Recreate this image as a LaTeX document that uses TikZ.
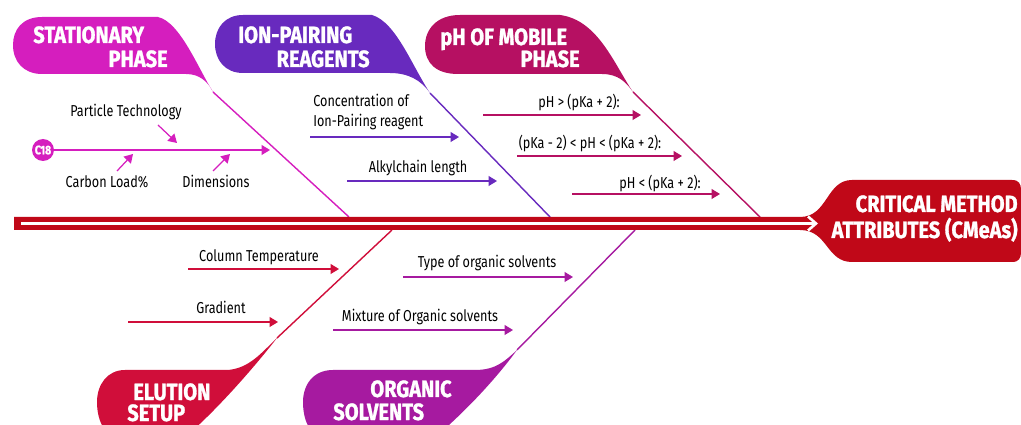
\documentclass[tikz,border=0pt]{standalone}
\usepackage{fontspec}
\setmainfont{Fira Sans}[FakeStretch=0.8]
\newfontfamily\headfam{Fira Sans}[FakeStretch=0.85,BoldFeatures={FakeBold=1.2}]
\usetikzlibrary{arrows.meta}
\definecolor{statpink}{RGB}{213,30,190}
\definecolor{ionpurple}{RGB}{104,42,190}
\definecolor{phcrimson}{RGB}{182,16,98}
\definecolor{elured}{RGB}{208,14,58}
\definecolor{orgplum}{RGB}{166,26,160}
\definecolor{spinered}{RGB}{192,8,24}
\newcommand\headfont{\headfam\fontsize{13.4}{14}\selectfont\bfseries}
\newcommand\lblfont{\fontsize{9}{10}\selectfont}

\begin{document}
\begin{tikzpicture}[x=0.02cm,y=-0.02cm,line join=round,
  >={Triangle[length=1.7mm,width=2mm]},
  head/.style={font=\headfont,text=white,inner sep=0},
  lbl/.style={font=\lblfont,inner sep=0},
  bone/.style={line width=0.8pt},
  cause/.style={line width=0.7pt,->}]
  \useasboundingbox (0,0) rectangle (1021,425);
  \clip (0,0) rectangle (1021,425);

  % bones
  \coordinate (statTip) at (213,92);  \coordinate (statFoot) at (349,217);
  \coordinate (ionTip) at (430,93);   \coordinate (ionFoot) at (550,217);
  \coordinate (phTip) at (633,92);    \coordinate (phFoot) at (760,217);
  \coordinate (eluTip) at (277,338);  \coordinate (eluFoot) at (392,230);
  \coordinate (orgTip) at (517,350);  \coordinate (orgFoot) at (635,230);
  \draw[bone,statpink] (statTip) -- (statFoot);
  \draw[bone,ionpurple] (ionTip) -- (ionFoot);
  \draw[bone,phcrimson] (phTip) -- (phFoot);
  \draw[bone,elured] (eluTip) -- (eluFoot);
  \draw[bone,orgplum] (orgTip) -- (orgFoot);

  % bubbles
  \fill[statpink] (statTip) .. controls (198,68) and (180,22) .. (158,17) -- (42,17)
    .. controls (22,17) and (13,30) .. (13,45) .. controls (13,62) and (24,74) .. (42,74)
    -- (186,74) .. controls (200,74) and (208,82) .. (statTip) -- cycle;
  \fill[ionpurple] (ionTip) .. controls (412,66) and (396,22) .. (372,15) -- (243,15)
    .. controls (225,15) and (215,28) .. (215,44) .. controls (215,60) and (225,73) .. (243,73)
    -- (390,73) .. controls (408,73) and (421,80) .. (ionTip) -- cycle;
  \fill[phcrimson] (phTip) .. controls (614,64) and (598,20) .. (560,15) -- (460,15)
    .. controls (436,15) and (425,30) .. (425,46) .. controls (425,63) and (436,74) .. (458,74)
    -- (602,74) .. controls (618,74) and (626,82) .. (phTip) -- cycle;
  \fill[elured] (eluTip) .. controls (262,352) and (250,368) .. (228,370) -- (125,370)
    .. controls (107,370) and (97,385) .. (97,402) .. controls (97,422) and (106,440) .. (125,440)
    -- (182,440) .. controls (215,412) and (252,370) .. (eluTip) -- cycle;
  \fill[orgplum] (orgTip) .. controls (505,361) and (496,370) .. (475,370) -- (333,370)
    .. controls (313,370) and (303,385) .. (303,402) .. controls (303,422) and (311,440) .. (333,440)
    -- (432,440) .. controls (465,412) and (495,380) .. (orgTip) -- cycle;

  % spine and head
  \fill[spinered] (14,217) -- (800,217) .. controls (828,217) and (826,180) .. (852,180)
    -- (1012,180) .. controls (1019,180) and (1021,184) .. (1021,190) -- (1021,252)
    .. controls (1021,258) and (1019,262) .. (1012,262) -- (852,262)
    .. controls (826,262) and (828,230) .. (800,230) -- (14,230) -- cycle;
  \coordinate (spineL) at (21,223.5);
  \coordinate (spineR) at (818,223.5);
  \draw[white,line width=1.5pt,-{Straight Barb[length=1.6mm,width=2.8mm]}] (spineL) -- (spineR);

  % headings
  \node[head,anchor=base west] (statA) at (33,43) {STATIONARY};
  \node[head,anchor=base east] (statB) at (168,67) {PHASE};
  \node[head,anchor=base west] (ionA) at (238,43) {ION-PAIRING};
  \node[head,anchor=base east] (ionB) at (370,67) {REAGENTS};
  \node[head,anchor=base west] (phA) at (440,45) {pH OF MOBILE};
  \node[head,anchor=base east] (phB) at (580,67) {PHASE};
  \node[head,anchor=base west] (eluA) at (133,400) {ELUTION};
  \node[head,anchor=base west] (eluB) at (127,421) {SETUP};
  \node[head,anchor=base east] (orgA) at (452,397) {ORGANIC};
  \node[head,anchor=base west] (orgB) at (333,420) {SOLVENTS};
  \node[head,anchor=base east] (cmaA) at (1018,212) {CRITICAL METHOD};
  \node[head,anchor=base east] (cmaB) at (1018,238) {ATTRIBUTES (CMeAs)};

  % stationary phase
  \node[circle,fill=statpink,minimum size=0.44cm,inner sep=0,text=white,
    font=\headfam\bfseries\fontsize{7}{7}\selectfont] (c18) at (43,150) {C18};
  \coordinate (c18End) at (270,150);
  \draw[cause,statpink] (c18) -- (c18End);
  \node[lbl,anchor=base] (partTxt) at (126,117) {Particle Technology};
  \node[lbl,anchor=base] (carbTxt) at (107,188) {Carbon Load\%};
  \node[lbl,anchor=base] (dimTxt) at (216,188) {Dimensions};
  \coordinate (partA) at (158,125); \coordinate (partB) at (177,143);
  \coordinate (carbA) at (117,171); \coordinate (carbB) at (133,154);
  \coordinate (dimA) at (213,171);  \coordinate (dimB) at (230,154);
  \draw[cause,statpink] (partA) -- (partB);
  \draw[cause,statpink] (carbA) -- (carbB);
  \draw[cause,statpink] (dimA) -- (dimB);

  % ion-pairing reagents
  \node[lbl,anchor=base west] (concTxt) at (313,107) {Concentration of};
  \node[lbl,anchor=base west] (concTxtB) at (313,127) {Ion-Pairing reagent};
  \node[lbl,anchor=base] (alkTxt) at (418,173) {Alkylchain length};
  \coordinate (concA) at (310,137); \coordinate (concB) at (459,137);
  \coordinate (alkA) at (347,181);  \coordinate (alkB) at (497,181);
  \draw[cause,ionpurple] (concA) -- (concB);
  \draw[cause,ionpurple] (alkA) -- (alkB);

  % pH of mobile phase
  \node[lbl,anchor=base] (phHiTxt) at (579,108) {pH > (pKa + 2):};
  \node[lbl,anchor=base] (phMidTxt) at (590,149) {(pKa - 2) < pH < (pKa + 2):};
  \node[lbl,anchor=base] (phLoTxt) at (660,189) {pH < (pKa + 2):};
  \coordinate (phHiA) at (483,115);  \coordinate (phHiB) at (641,115);
  \coordinate (phMidA) at (517,156); \coordinate (phMidB) at (682,156);
  \coordinate (phLoA) at (572,194);  \coordinate (phLoB) at (720,194);
  \draw[cause,phcrimson] (phHiA) -- (phHiB);
  \draw[cause,phcrimson] (phMidA) -- (phMidB);
  \draw[cause,phcrimson] (phLoA) -- (phLoB);

  % elution setup
  \node[lbl,anchor=base] (colTxt) at (259,262) {Column Temperature};
  \node[lbl,anchor=base] (gradTxt) at (221,314) {Gradient};
  \coordinate (colA) at (188,269);  \coordinate (colB) at (339,269);
  \coordinate (gradA) at (128,322); \coordinate (gradB) at (278,322);
  \draw[cause,elured] (colA) -- (colB);
  \draw[cause,elured] (gradA) -- (gradB);

  % organic solvents
  \node[lbl,anchor=base] (typeTxt) at (487,268) {Type of organic solvents};
  \node[lbl,anchor=base] (mixTxt) at (420,322) {Mixture of Organic solvents};
  \coordinate (typeA) at (403,277); \coordinate (typeB) at (573,277);
  \coordinate (mixA) at (333,330);  \coordinate (mixB) at (513,330);
  \draw[cause,orgplum] (typeA) -- (typeB);
  \draw[cause,orgplum] (mixA) -- (mixB);
\end{tikzpicture}
\end{document}
